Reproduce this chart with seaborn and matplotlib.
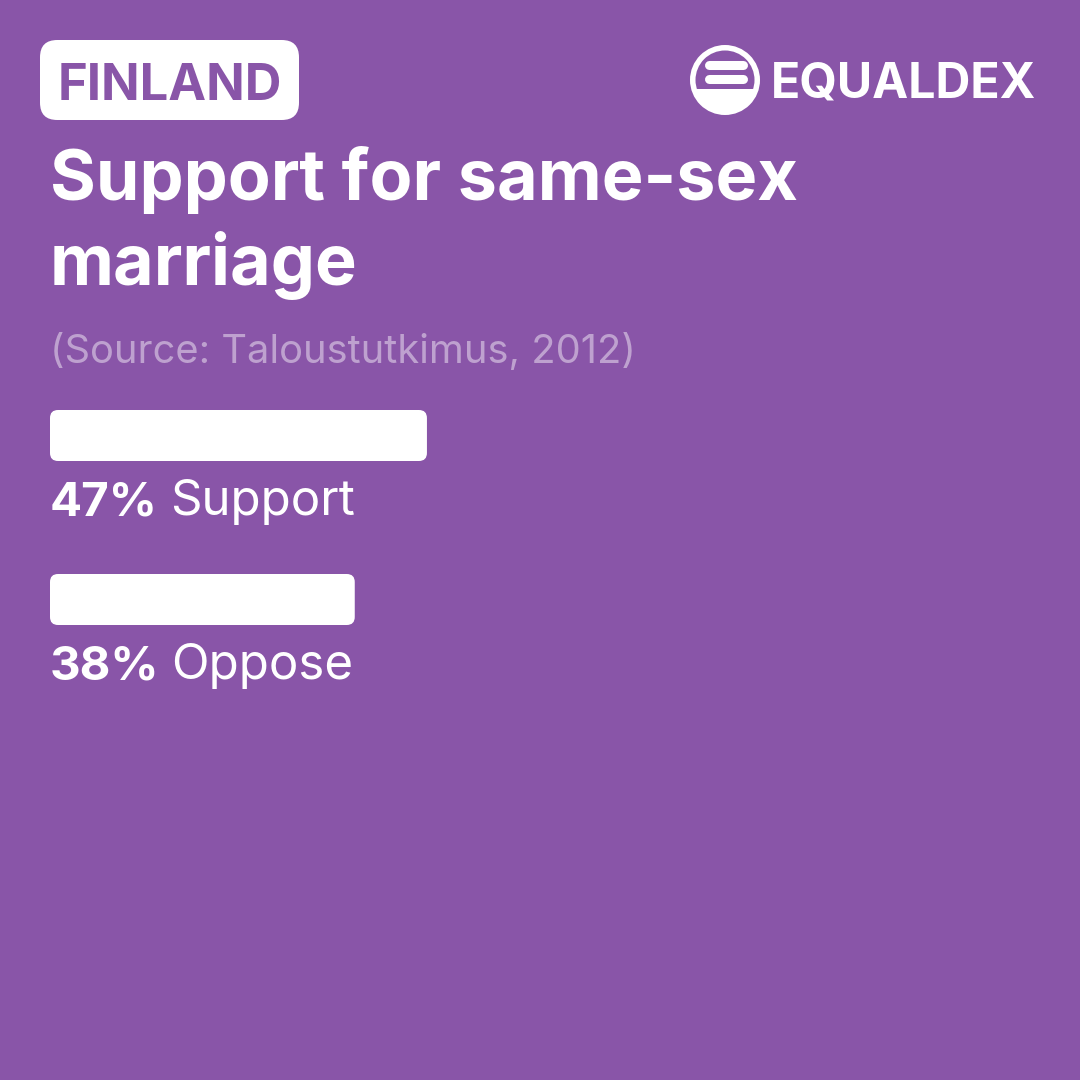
import numpy as np
import matplotlib
matplotlib.use("Agg")
import matplotlib.pyplot as plt
import seaborn as sns
from matplotlib.patches import FancyBboxPatch, Circle

# --- data ---
country = "FINLAND"
title_lines = ["Support for same-sex", "marriage"]
source = "(Source: Taloustutkimus, 2012)"
answers = ["Support", "Oppose"]
percents = [47, 38]

BG = "#8955A8"
W = H = 1080
DPI = 100

sns.set_theme(style="white")
plt.rcParams["font.family"] = ["Inter", "DejaVu Sans"]

fig = plt.figure(figsize=(W / DPI, H / DPI), dpi=DPI, facecolor=BG)


def fx(px):
    return px / W


def fy(py):
    return 1 - py / H


# --- bars ---
row_px = 164          # distance between bar centres
top_center = 435.5    # first bar centre (px from top)
ax = fig.add_axes([fx(50), fy(top_center + row_px * 1.5), fx(802), row_px * 2 / H])
sns.barplot(x=percents, y=answers, orient="h", color="white", width=51 / row_px,
            ax=ax, saturation=1)
ax.set_xlim(0, 100)
ax.set_ylim(1.5, -0.5)
ax.set_axis_off()

# rounded corners on the bars
aspect = (1 / row_px) / (100 / 802)
for p in list(ax.patches):
    x0, y0 = p.get_x(), p.get_y()
    w, h = p.get_width(), p.get_height()
    rb = FancyBboxPatch((x0, y0), w, h, boxstyle="round,pad=0,rounding_size=1.0",
                        mutation_aspect=aspect, fc="white", ec="none")
    p.remove()
    ax.add_patch(rb)

fig.canvas.draw()
for i, (ans, pct) in enumerate(zip(answers, percents)):
    yb = i + 79.5 / row_px
    t1 = ax.text(0, yb, f"{pct}%", color="white", fontsize=34.2, fontweight="bold",
                 va="baseline", ha="left")
    fig.canvas.draw()
    bb = t1.get_window_extent()
    xr = ax.transData.inverted().transform((bb.x1 + 12, bb.y0))[0]
    ax.text(xr, yb, ans, color="white", fontsize=35.5, va="baseline", ha="left")

# --- header ---
box = FancyBboxPatch((fx(40), fy(120)), fx(259), 80 / H,
                     boxstyle="round,pad=0,rounding_size=0.016",
                     transform=fig.transFigure, fc="white", ec="none")
fig.add_artist(box)
fig.text(fx(169.5), fy(100), country, color=BG, fontsize=36.5, fontweight="bold",
         ha="center", va="baseline")

for k, line in enumerate(title_lines):
    fig.text(fx(50), fy(200 + 85 * k), line, color="white", fontsize=50.5,
             fontweight="bold", ha="left", va="baseline")

fig.text(fx(50), fy(363), source, color="white", alpha=0.45, fontsize=28.7,
         ha="left", va="baseline")

# --- logo ---
lax = fig.add_axes([0, 0, 1, 1])
lax.set_xlim(0, W)
lax.set_ylim(H, 0)
lax.set_axis_off()
lax.patch.set_alpha(0)
lax.add_patch(Circle((725, 80), 35, fc="white", ec="none"))
inner = Circle((725, 80), 29.5, fc=BG, ec="none")
lax.add_patch(inner)
clip = FancyBboxPatch((690, 40), 70, 49, boxstyle="round,pad=0,rounding_size=8",
                      fc="none", ec="none")
lax.add_patch(clip)
inner.set_clip_path(clip)
for yy in (65, 79):
    lax.plot([709, 743], [yy, yy], color="white", lw=6.5, solid_capstyle="round")
fig.text(fx(771), fy(97), "EQUALDEX", color="white", fontsize=34.8,
         fontweight="bold", ha="left", va="baseline")

fig.savefig("out.png", dpi=DPI, facecolor=BG)
